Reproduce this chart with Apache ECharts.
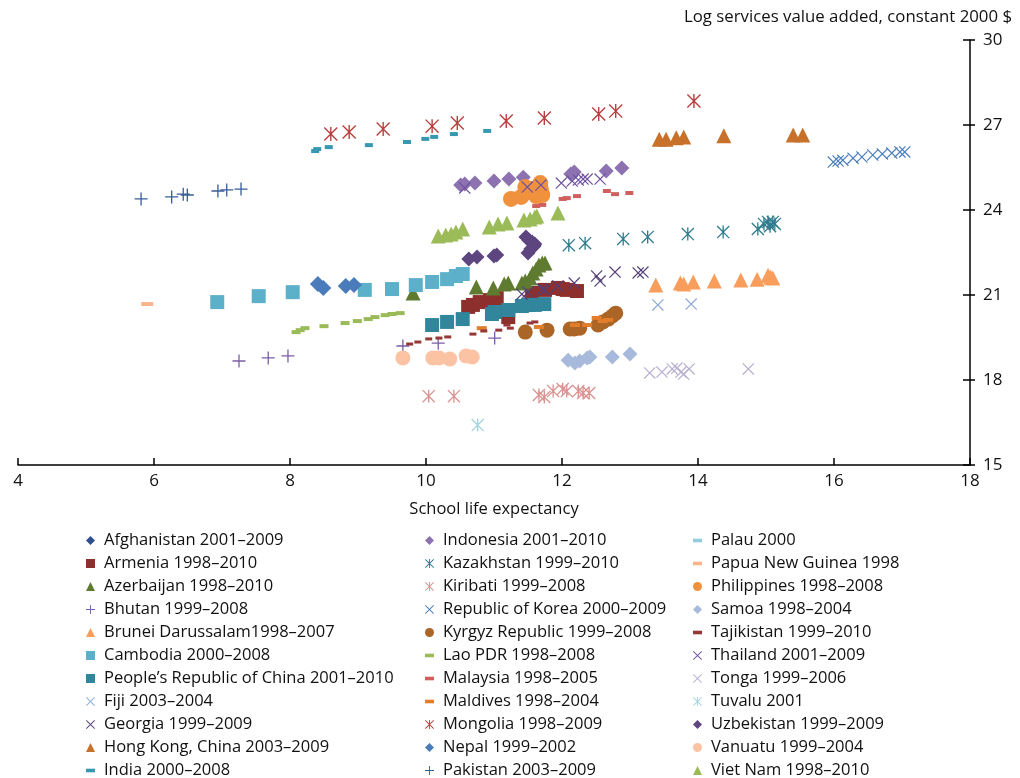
<!DOCTYPE html>
<html>
<head>
<meta charset="utf-8">
<title>School life expectancy vs services value added</title>
<script src="https://cdn.jsdelivr.net/npm/echarts@6/dist/echarts.min.js"></script>
<style>
  html, body { margin: 0; padding: 0; background: #fff; }
  #main { width: 1020px; height: 778px; }
</style>
</head>
<body>
<div id="main"></div>
<script>
// 数据: [school life expectancy, log services value added]
var afghanistan = [];
var armenia = [[10.62, 20.58], [10.69, 20.65], [10.79, 20.75], [10.94, 20.82], [11.04, 20.89], [11.04, 20.40], [11.21, 20.22], [11.56, 21.07], [11.75, 21.18], [11.94, 21.25], [12.01, 21.21], [12.07, 21.18], [12.22, 21.14]];
var azerbaijan = [[9.81, 21.07], [10.74, 21.28], [10.99, 21.25], [11.15, 21.39], [11.21, 21.42], [11.41, 21.42], [11.46, 21.49], [11.53, 21.60], [11.57, 21.78], [11.62, 21.92], [11.66, 22.06], [11.71, 22.13], [11.75, 22.13]];
var bhutan = [[7.25, 18.67], [7.68, 18.78], [7.97, 18.85], [9.66, 19.20], [10.18, 19.30], [11.01, 19.48]];
var brunei = [[13.38, 21.35], [13.74, 21.42], [13.79, 21.39], [13.93, 21.46], [14.24, 21.49], [14.63, 21.53], [14.87, 21.56], [15.03, 21.70], [15.07, 21.63], [15.10, 21.60]];
var cambodia = [[6.93, 20.75], [7.54, 20.96], [8.04, 21.10], [9.10, 21.18], [9.50, 21.21], [9.85, 21.35], [10.09, 21.46], [10.31, 21.56], [10.44, 21.67], [10.54, 21.74]];
var china = [[10.09, 19.94], [10.31, 20.05], [10.54, 20.15], [10.97, 20.33], [11.01, 20.40], [11.21, 20.47], [11.41, 20.61], [11.50, 20.65], [11.60, 20.65], [11.74, 20.68]];
var fiji = [[13.41, 20.65], [13.90, 20.68]];
var georgia = [[11.41, 21.03], [11.50, 21.10], [11.71, 21.21], [11.75, 21.18], [11.94, 21.32], [12.18, 21.42], [12.51, 21.67], [12.56, 21.49], [12.78, 21.81], [13.12, 21.78], [13.19, 21.81]];
var hongKong = [[13.43, 26.50], [13.53, 26.50], [13.68, 26.55], [13.79, 26.58], [14.38, 26.62], [15.40, 26.65], [15.54, 26.65]];
var india = [[8.37, 26.08], [8.40, 26.15], [8.57, 26.22], [9.16, 26.29], [9.72, 26.40], [9.99, 26.51], [10.12, 26.58], [10.41, 26.68], [10.90, 26.79]];
var indonesia = [[10.51, 24.88], [10.57, 24.92], [10.72, 24.95], [11.00, 25.02], [11.22, 25.09], [11.43, 25.16], [12.13, 25.27], [12.18, 25.34], [12.65, 25.38], [12.88, 25.48]];
var kazakhstan = [[12.10, 22.76], [12.34, 22.83], [12.90, 22.98], [13.26, 23.05], [13.85, 23.15], [14.37, 23.22], [14.88, 23.33], [14.97, 23.51], [15.03, 23.58], [15.06, 23.43], [15.10, 23.58], [15.13, 23.51]];
var kiribati = [[10.04, 17.43], [10.41, 17.43], [11.66, 17.47], [11.74, 17.40], [11.87, 17.61], [12.01, 17.68], [12.07, 17.61], [12.24, 17.61], [12.31, 17.54], [12.40, 17.54]];
var korea = [[15.99, 25.69], [16.06, 25.73], [16.13, 25.76], [16.28, 25.83], [16.41, 25.87], [16.57, 25.94], [16.71, 25.98], [16.85, 26.01], [16.97, 26.05], [17.04, 26.05]];
var kyrgyz = [[11.46, 19.69], [11.78, 19.76], [12.12, 19.80], [12.18, 19.80], [12.26, 19.83], [12.53, 19.94], [12.60, 20.05], [12.68, 20.15], [12.74, 20.26], [12.79, 20.36]];
var lao = [[8.09, 19.69], [8.15, 19.76], [8.22, 19.83], [8.50, 19.90], [8.81, 20.01], [8.99, 20.08], [9.15, 20.15], [9.25, 20.22], [9.40, 20.29], [9.50, 20.33], [9.62, 20.36]];
var malaysia = [[11.62, 24.14], [11.71, 24.18], [12.01, 24.39], [12.07, 24.42], [12.22, 24.49], [12.66, 24.67], [12.78, 24.56], [12.99, 24.60]];
var maldives = [[10.82, 19.83], [11.66, 19.87], [12.19, 19.94], [12.37, 19.94], [12.51, 20.19], [12.60, 20.08], [12.68, 20.12]];
var mongolia = [[8.60, 26.68], [8.87, 26.75], [9.37, 26.86], [10.09, 26.96], [10.46, 27.07], [11.18, 27.14], [11.74, 27.25], [12.54, 27.39], [12.79, 27.49], [13.94, 27.85]];
var nepal = [[8.41, 21.39], [8.49, 21.25], [8.82, 21.32], [8.94, 21.35]];
var pakistan = [[5.81, 24.39], [6.26, 24.46], [6.43, 24.56], [6.49, 24.53], [6.94, 24.67], [7.07, 24.71], [7.28, 24.74]];
var palau = [];
var papuaNewGuinea = [[5.90, 20.68]];
var philippines = [[11.25, 24.39], [11.40, 24.46], [11.46, 24.81], [11.50, 24.63], [11.56, 24.74], [11.63, 24.60], [11.68, 24.85], [11.69, 24.71], [11.71, 24.53], [11.62, 24.49], [11.68, 24.95]];
var samoa = [[12.09, 18.70], [12.19, 18.60], [12.26, 18.67], [12.37, 18.78], [12.41, 18.81], [12.74, 18.81], [13.00, 18.92]];
var tajikistan = [[9.76, 19.27], [9.88, 19.34], [10.04, 19.45], [10.19, 19.48], [10.32, 19.52], [10.69, 19.62], [10.85, 19.73], [11.07, 19.76], [11.19, 19.94], [11.24, 19.83], [11.53, 20.01], [11.60, 20.05]];
var thailand = [[10.57, 24.78], [11.49, 24.81], [11.69, 24.88], [11.99, 24.95], [12.15, 25.02], [12.24, 25.06], [12.31, 25.09], [12.37, 25.09], [12.56, 25.09]];
var tonga = [[13.29, 18.25], [13.47, 18.28], [13.62, 18.39], [13.69, 18.42], [13.75, 18.28], [13.79, 18.21], [13.87, 18.39], [14.74, 18.39]];
var tuvalu = [[10.76, 16.41]];
var uzbekistan = [[10.63, 22.27], [10.75, 22.34], [11.00, 22.38], [11.04, 22.41], [11.47, 23.05], [11.51, 22.94], [11.56, 22.87], [11.60, 22.80], [11.50, 22.48], [11.54, 22.62], [11.59, 22.73]];
var vanuatu = [[9.66, 18.78], [10.10, 18.78], [10.19, 18.78], [10.35, 18.74], [10.59, 18.85], [10.68, 18.81]];
var vietNam = [[10.18, 23.08], [10.29, 23.12], [10.37, 23.15], [10.44, 23.22], [10.54, 23.33], [10.93, 23.40], [11.06, 23.51], [11.19, 23.54], [11.44, 23.65], [11.53, 23.68], [11.60, 23.75], [11.63, 23.79], [11.94, 23.89]];

// 坐标轴刻度
var xTicks = [4, 6, 8, 10, 12, 14, 16, 18];
var yTicks = [15, 18, 21, 24, 27, 30];

// 自定义符号 (20x20 盒子)
var PLUS = 'path://M9,0H11V9H20V11H11V20H9V11H0V9H9Z';
var CROSS = 'path://M0,1.4L1.4,0L20,18.6L18.6,20Z M20,1.4L1.4,20L0,18.6L18.6,0Z';
var STAR = 'path://M0,1.4L1.4,0L20,18.6L18.6,20Z M20,1.4L1.4,20L0,18.6L18.6,0Z M9,0H11V20H9Z';
var DASH = 'path://M0,0H10V4H0Z';

// 每个国家: 名称, 数据, 符号, 大小, 颜色
var countries = [
    ['Afghanistan 2001\u20132009', afghanistan, 'diamond', 15, '#2f4f8c'],
    ['Armenia 1998\u20132010', armenia, 'rect', 14, '#8c2f2d'],
    ['Azerbaijan 1998\u20132010', azerbaijan, 'triangle', 15, '#5f7b30'],
    ['Bhutan 1999\u20132008', bhutan, PLUS, 13, '#7a5ea6'],
    ['Brunei Darussalam1998\u20132007', brunei, 'triangle', 15, '#f89d5c'],
    ['Cambodia 2000\u20132008', cambodia, 'rect', 14, '#5cb0ca'],
    ['People\u2019s Republic of China 2001\u20132010', china, 'rect', 14, '#31869c'],
    ['Fiji 2003\u20132004', fiji, CROSS, 12, '#8ea9d6'],
    ['Georgia 1999\u20132009', georgia, CROSS, 12, '#543f78'],
    ['Hong Kong, China 2003\u20132009', hongKong, 'triangle', 15, '#c8712a'],
    ['India 2000\u20132008', india, 'rect', [8, 4], '#3798b2'],
    ['Indonesia 2001\u20132010', indonesia, 'diamond', 15, '#8c72b0'],
    ['Kazakhstan 1999\u20132010', kazakhstan, STAR, 13, '#2e7b8e'],
    ['Kiribati 1999\u20132008', kiribati, STAR, 13, '#d89290'],
    ['Republic of Korea 2000\u20132009', korea, CROSS, 12, '#4a7ebb'],
    ['Kyrgyz Republic 1999\u20132008', kyrgyz, 'circle', 15, '#ab6526'],
    ['Lao PDR 1998\u20132008', lao, 'rect', [9, 4], '#9bbb59'],
    ['Malaysia 1998\u20132005', malaysia, 'rect', [8, 4], '#d0605e'],
    ['Maldives 1998\u20132004', maldives, 'rect', [10, 4], '#e27d2c'],
    ['Mongolia 1998\u20132009', mongolia, STAR, 14, '#b7403e'],
    ['Nepal 1999\u20132002', nepal, 'diamond', 16, '#4a7bbb'],
    ['Pakistan 2003\u20132009', pakistan, PLUS, 13, '#365d99'],
    ['Palau 2000', palau, 'rect', [8, 4], '#93cddd'],
    ['Papua New Guinea 1998', papuaNewGuinea, 'rect', [12, 4], '#f9b48c'],
    ['Philippines 1998\u20132008', philippines, 'circle', 16, '#f0913e'],
    ['Samoa 1998\u20132004', samoa, 'diamond', 15, '#a8badb'],
    ['Tajikistan 1999\u20132010', tajikistan, 'rect', [7, 3], '#953735'],
    ['Thailand 2001\u20132009', thailand, CROSS, 12, '#6f52a0'],
    ['Tonga 1999\u20132006', tonga, CROSS, 12, '#b8aed0'],
    ['Tuvalu 2001', tuvalu, STAR, 13, '#a3d3df'],
    ['Uzbekistan 1999\u20132009', uzbekistan, 'diamond', 15, '#5d467f'],
    ['Vanuatu 1999\u20132004', vanuatu, 'circle', 15, '#fbc3a4'],
    ['Viet Nam 1998\u20132010', vietNam, 'triangle', 15, '#9bbb59']
];

var FONT = 'Open Sans';

var series = countries.map(function (c) {
    return {
        name: c[0],
        type: 'scatter',
        data: c[1],
        symbol: c[2],
        symbolSize: c[3],
        itemStyle: { color: c[4], opacity: 1 },
        emphasis: { disabled: true }
    };
});

// 图例: 三列, 每列单独一个 legend
function legendColumn(names, left) {
    return {
        orient: 'vertical',
        left: left,
        top: 532,
        height: 300,
        padding: 0,
        itemWidth: 9,
        itemHeight: 9,
        itemGap: 6,
        selectedMode: false,
        textStyle: { fontFamily: FONT, fontSize: 16.5, color: '#111', padding: [0, 0, 0, 4] },
        data: names.map(function (n) {
            var c = countries.find(function (k) { return k[0] === n; });
            if (Array.isArray(c[3])) {
                return { name: n, icon: DASH };
            }
            return { name: n };
        })
    };
}

var names = countries.map(function (c) { return c[0]; });

var option = {
    animation: false,
    backgroundColor: '#fff',
    title: {
        text: 'Log services value added, constant 2000 $',
        right: 3,
        top: 4,
        textStyle: { fontFamily: FONT, fontSize: 16.8, fontWeight: 'normal', color: '#111' }
    },
    legend: [
        legendColumn(names.slice(0, 11), 86),
        legendColumn(names.slice(11, 22), 425),
        legendColumn(names.slice(22, 33), 693)
    ],
    grid: { left: 18, right: 50, top: 40, bottom: 313 },
    xAxis: {
        type: 'value',
        min: xTicks[0],
        max: xTicks[xTicks.length - 1],
        interval: 2,
        name: 'School life expectancy',
        nameLocation: 'middle',
        nameGap: 36,
        nameTextStyle: { fontFamily: FONT, fontSize: 16.5, color: '#111' },
        axisLine: { lineStyle: { color: '#000', width: 1.5 } },
        axisTick: { inside: true, length: 7, lineStyle: { color: '#000', width: 1.5 } },
        axisLabel: { fontFamily: FONT, fontSize: 17, color: '#111', margin: 8 },
        splitLine: { show: false }
    },
    yAxis: [{
        type: 'value',
        position: 'right',
        min: yTicks[0],
        max: yTicks[yTicks.length - 1],
        interval: 3,
        axisLine: { show: true, lineStyle: { color: '#000', width: 1.5 } },
        axisTick: { show: true, inside: true, length: 7, lineStyle: { color: '#000', width: 1.5 } },
        axisLabel: { fontFamily: FONT, fontSize: 17, color: '#111', margin: 13 },
        splitLine: { show: false }
    }, {
        // 外侧刻度
        type: 'value',
        position: 'right',
        min: yTicks[0],
        max: yTicks[yTicks.length - 1],
        interval: 3,
        axisLine: { show: false },
        axisTick: { show: true, inside: false, length: 5, lineStyle: { color: '#000', width: 1.5 } },
        axisLabel: { show: false },
        splitLine: { show: false }
    }],
    series: series
};

chart = echarts.init(document.getElementById('main'));
chart.setOption(option);
</script>
</body>
</html>
